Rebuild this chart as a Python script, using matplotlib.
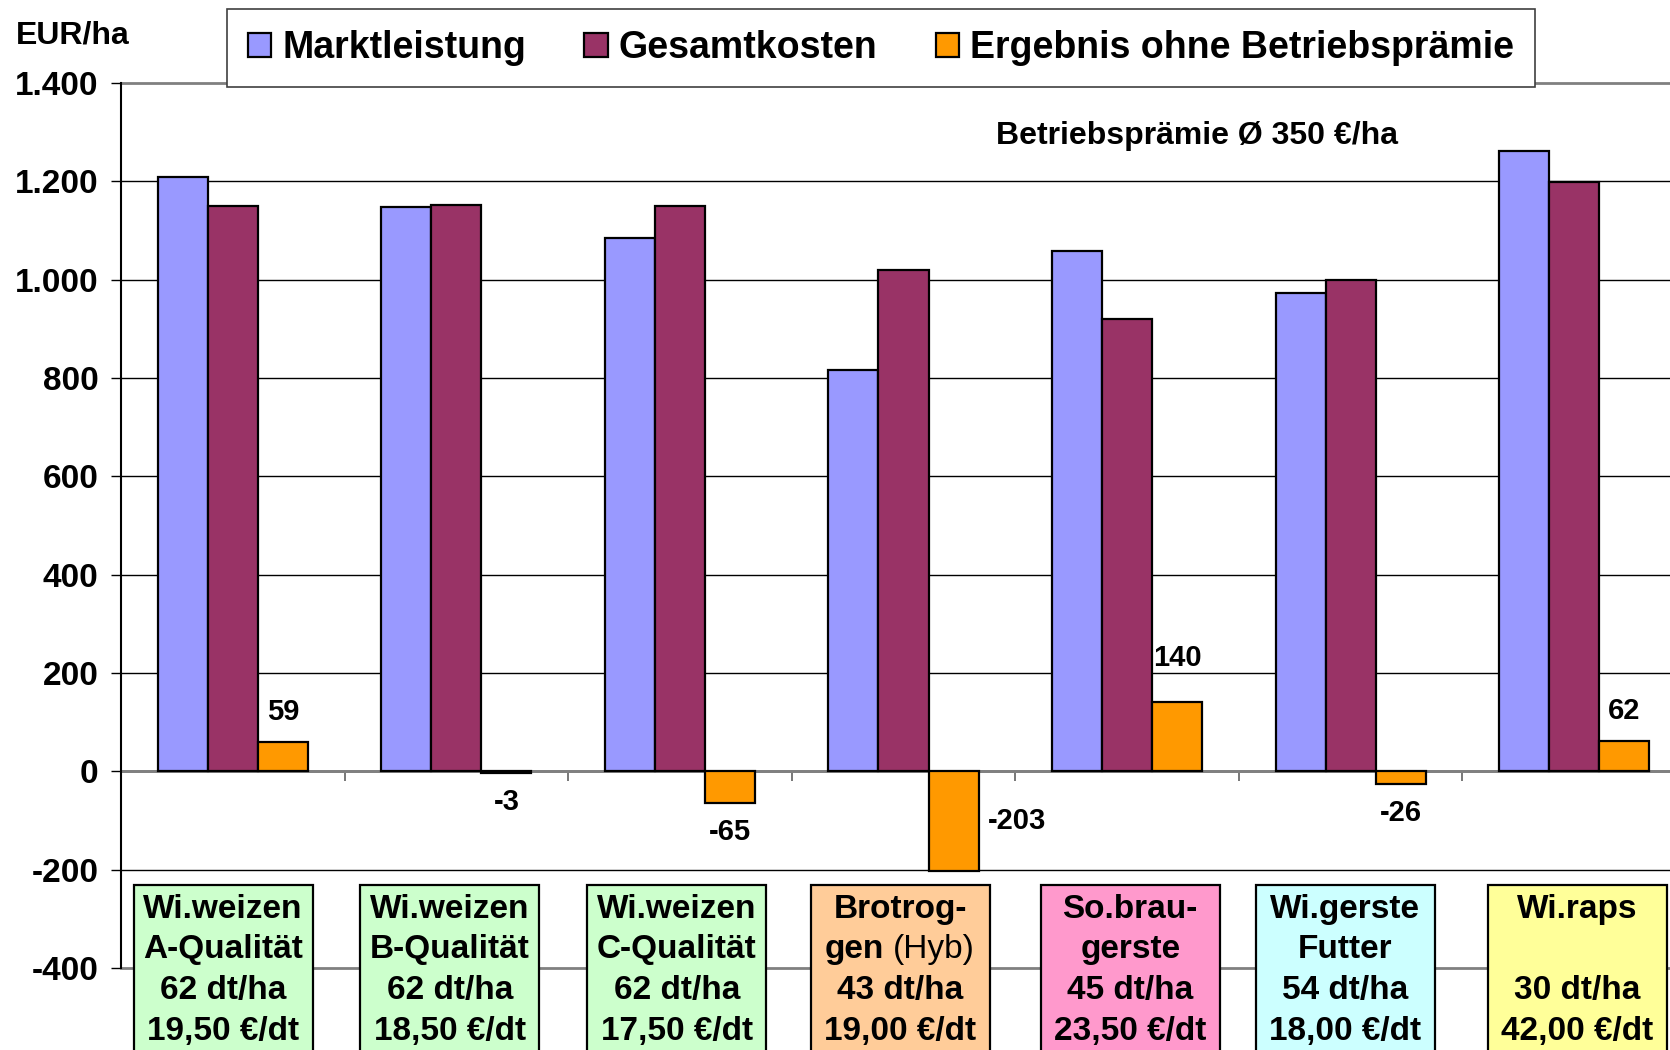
import matplotlib
matplotlib.use("Agg")
import matplotlib.pyplot as plt
from matplotlib.patches import Rectangle
import numpy as np

plt.rcParams['font.family'] = ['Liberation Sans', 'DejaVu Sans']
plt.rcParams['font.weight'] = 'bold'

# ---- data ----
categories_line1 = ["Wi.weizen", "Wi.weizen", "Wi.weizen", "Brotrog-", "So.brau-", "Wi.gerste", "Wi.raps"]
categories_line2 = ["A-Qualität", "B-Qualität", "C-Qualität", "gen", "gerste", "Futter", ""]
categories_line3 = ["62 dt/ha", "62 dt/ha", "62 dt/ha", "43 dt/ha", "45 dt/ha", "54 dt/ha", "30 dt/ha"]
categories_line4 = ["19,50 €/dt", "18,50 €/dt", "17,50 €/dt", "19,00 €/dt", "23,50 €/dt", "18,00 €/dt", "42,00 €/dt"]
marktleistung = [1209, 1148, 1085, 817, 1059, 973, 1261]
gesamtkosten = [1150, 1151, 1150, 1020, 919, 999, 1199]
ergebnis = [59, -3, -65, -203, 140, -26, 62]
series_names = ["Marktleistung", "Gesamtkosten", "Ergebnis ohne Betriebsprämie"]
yticks = [-400, -200, 0, 200, 400, 600, 800, 1000, 1200, 1400]
ytick_labels = ["-400", "-200", "0", "200", "400", "600", "800", "1.000", "1.200", "1.400"]
annotation_text = "Betriebsprämie Ø 350 €/ha"
unit_label = "EUR/ha"
hyb_suffix = "(Hyb)"

# ---- style ----
colors = ["#9999FF", "#993366", "#FF9900"]
box_colors = ["#CCFFCC", "#CCFFCC", "#CCFFCC", "#FFCC99", "#FF99CC", "#CCFFFF", "#FFFF99"]
box_dx = [-0.043, -0.029, -0.014, -0.014, 0.014, -0.024, 0.014]
label_offsets = [(0, 30), (0, -29), (0, -29), (63, 0), (0, 45), (0, -29), (0, 30)]

W, H = 1670, 1050
fig = plt.figure(figsize=(W / 100, H / 100), dpi=100)
ax_left, ax_right = 121, 1686
ax_top, ax_bot = 83, 968
ax = fig.add_axes([ax_left / W, 1 - ax_bot / H, (ax_right - ax_left) / W, (ax_bot - ax_top) / H])

n = len(marktleistung)
x = np.arange(n)
bw = 0.224
ax.set_xlim(-0.5, n - 0.5)
ax.set_ylim(-400, 1400)

for k, (vals, c) in enumerate(zip([marktleistung, gesamtkosten, ergebnis], colors)):
    ax.bar(x + (k - 1) * bw, vals, width=bw, color=c, edgecolor="black", linewidth=1.6,
           zorder=3, label=series_names[k])

# grid
for yv in yticks:
    if yv in (-400, 0, 1400):
        ax.axhline(yv, color="#808080", lw=2, zorder=2, clip_on=False)
    else:
        ax.axhline(yv, color="black", lw=1, zorder=1)

for s in ["top", "right"]:
    ax.spines[s].set_visible(False)
ax.spines["bottom"].set_position(("data", 0))
ax.spines["bottom"].set_color("#808080")
ax.spines["bottom"].set_linewidth(2)
ax.spines["bottom"].set_zorder(2)
ax.spines["left"].set_color("black")
ax.spines["left"].set_linewidth(1.5)

ax.set_xticks(np.arange(0.5, n - 0.5, 1.0))
ax.set_xticklabels([])
ax.tick_params(axis="x", direction="out", length=7, width=1.2, color="#606060")
ax.set_yticks(yticks)
ax.set_yticklabels(ytick_labels, fontsize=24, fontweight="bold")
ax.tick_params(axis="y", direction="out", length=7.2, width=1, color="black", pad=9)

# value labels
for i, v in enumerate(ergebnis):
    dx, dy = label_offsets[i]
    yref = v / 2 if dx != 0 else v
    ax.annotate(f"{v}", xy=(x[i] + bw, yref), xytext=(dx, dy), textcoords="offset pixels",
                ha="center", va="center", fontsize=21, fontweight="bold", zorder=5)

# category boxes
def py2data(py):
    return (771 - py) / 98.2 * 200

box_top = py2data(885)
for i in range(n):
    cx = x[i] + box_dx[i]
    r = Rectangle((cx - 0.4, box_top), 0.8, -400, facecolor=box_colors[i], edgecolor="black",
                  linewidth=1.6, clip_on=False, zorder=6)
    ax.add_patch(r)
    lines = [categories_line1[i], categories_line2[i], categories_line3[i], categories_line4[i]]
    for j, t in enumerate(lines):
        yb = py2data(917 + 40.7 * j)
        if i == 3 and j == 1:
            ax.annotate(t, xy=(cx, yb), xytext=(-16, 0), textcoords="offset pixels",
                        ha="right", va="baseline", fontsize=24, fontweight="bold", zorder=7)
            ax.annotate(hyb_suffix, xy=(cx, yb), xytext=(-7, 0), textcoords="offset pixels",
                        ha="left", va="baseline", fontsize=24, fontweight="normal", zorder=7)
            continue
        ax.text(cx, yb, t, ha="center", va="baseline", fontsize=24, fontweight="bold",
                zorder=7, clip_on=False)

# texts
fig.text(16 / W, 1 - 36 / H, unit_label, ha="left", va="center", fontsize=23, fontweight="bold")
fig.text(1197 / W, 1 - 136 / H, annotation_text, ha="center", va="center", fontsize=23, fontweight="bold")

leg = fig.legend(loc="center", bbox_to_anchor=(881 / W, 1 - 48 / H), ncol=3,
                 frameon=True, fancybox=False, edgecolor="#404040", framealpha=1,
                 handlelength=0.62, handleheight=0.62, handletextpad=0.3, columnspacing=1.55,
                 borderpad=0.55, prop={"weight": "bold", "size": 27})
leg.get_frame().set_linewidth(1.2)
leg.set_zorder(10)

fig.savefig("out.png", dpi=100)
